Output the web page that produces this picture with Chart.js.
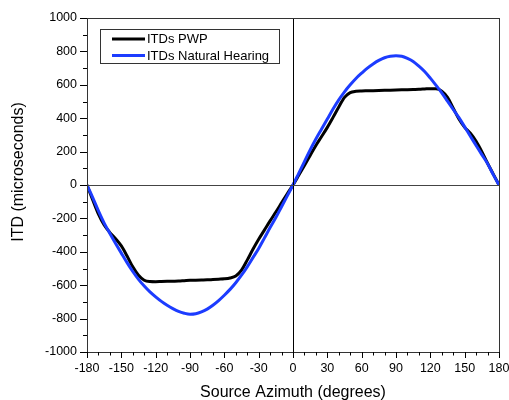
<!DOCTYPE html>
<html>
<head>
<meta charset="utf-8">
<script src="https://cdn.jsdelivr.net/npm/chart.js@4"></script>
<style>
  body { margin: 0; background: #fff; }
  #wrap { width: 509px; height: 400px; }
</style>
</head>
<body>
<div id="wrap"><canvas id="itdChart" width="509" height="400"></canvas></div>
<script>
// source azimuth in degrees
const azimuth = [
  -180, -175, -170, -165, -160, -155, -150, -145, -140, -135, -130, -125,
  -120, -115, -110, -105, -100, -95, -90, -85, -80, -75, -70, -65,
  -60, -55, -50, -45, -40, -35, -30, -25, -20, -15, -10, -5,
  0, 5, 10, 15, 20, 25, 30, 35, 40, 45, 50, 55,
  60, 65, 70, 75, 80, 85, 90, 95, 100, 105, 110, 115,
  120, 125, 130, 135, 140, 145, 150, 155, 160, 165, 170, 175, 180
];

// ITDs PWP (microseconds)
const pwpItd = [
  0, -90, -175, -240, -285, -322, -365, -425, -490, -540, -570, -578,
  -579, -578, -577, -576, -575, -573, -571, -570, -569, -568, -566, -564,
  -562, -557, -545, -510, -450, -385, -325, -270, -215, -162, -107, -52,
  0, 58, 117, 177, 237, 290, 345, 405, 467, 525, 553, 561,
  563, 564, 565, 566, 567, 568, 569, 570, 571, 572, 573, 575,
  577, 576, 562, 525, 460, 395, 345, 310, 262, 200, 130, 65, 0
];

// ITDs Natural Hearing (microseconds)
const naturalItd = [
  0, -75, -155, -228, -290, -350, -408, -465, -518, -565, -605, -640,
  -670, -697, -720, -740, -757, -768, -774, -771, -760, -743, -720, -692,
  -660, -625, -585, -540, -490, -435, -380, -318, -255, -195, -130, -65,
  0, 70, 140, 210, 275, 335, 395, 455, 510, 558, 600, 638,
  670, 700, 725, 746, 762, 771, 774, 771, 758, 740, 712, 680,
  640, 597, 552, 502, 452, 403, 348, 292, 237, 182, 128, 62, 0
];

const xTicks = [-180, -150, -120, -90, -60, -30, 0, 30, 60, 90, 120, 150, 180];
const yTicks = [-1000, -800, -600, -400, -200, 0, 200, 400, 600, 800, 1000];

const seriesNames = ['ITDs PWP', 'ITDs Natural Hearing'];
const seriesColors = ['#000000', '#1c3cff'];

const FONT = 'Arial, "Liberation Sans", sans-serif';

const toPoints = (vals) => vals.map((v, i) => ({ x: azimuth[i], y: v }));

// frame, zero lines, minor/major ticks, axis titles, legend
const decorations = {
  id: 'decorations',
  afterDatasetsDraw(chart) {
    const { ctx, chartArea: a, scales: { x, y } } = chart;
    ctx.save();

    // zero lines
    ctx.lineWidth = 1;
    ctx.strokeStyle = '#000';
    const x0 = Math.round(x.getPixelForValue(0)) + 0.5;
    ctx.beginPath(); ctx.moveTo(x0, a.top); ctx.lineTo(x0, a.bottom); ctx.stroke();
    ctx.strokeStyle = '#444';
    const y0 = Math.round(y.getPixelForValue(0)) + 0.5;
    ctx.beginPath(); ctx.moveTo(a.left, y0); ctx.lineTo(a.right, y0); ctx.stroke();

    // frame
    ctx.strokeStyle = '#333';
    ctx.strokeRect(Math.round(a.left) + 0.5, Math.round(a.top) + 0.5,
      Math.round(a.right - a.left), Math.round(a.bottom - a.top));

    // x ticks: major every 30, minor every 10
    ctx.strokeStyle = '#000';
    ctx.beginPath();
    for (let d = -180; d <= 180; d += 10) {
      const px = Math.round(x.getPixelForValue(d)) + 0.5;
      const len = d % 30 === 0 ? 6 : 3.5;
      ctx.moveTo(px, a.bottom); ctx.lineTo(px, a.bottom + len);
    }
    // y ticks: major every 200, minor every 100
    for (let v = -1000; v <= 1000; v += 100) {
      const py = Math.round(y.getPixelForValue(v)) + 0.5;
      const len = v % 200 === 0 ? 7 : 4;
      ctx.moveTo(a.left, py); ctx.lineTo(a.left - len, py);
    }
    ctx.stroke();

    // axis titles
    ctx.fillStyle = '#000';
    ctx.font = '16px ' + FONT;
    ctx.textAlign = 'center';
    ctx.textBaseline = 'middle';
    ctx.fillText('Source Azimuth (degrees)', (a.left + a.right) / 2, 393);
    ctx.save();
    ctx.translate(19, 172);
    ctx.rotate(-Math.PI / 2);
    ctx.fillText('ITD (microseconds)', 0, 0);
    ctx.restore();

    // legend box
    ctx.strokeStyle = '#333';
    ctx.lineWidth = 1;
    ctx.strokeRect(100.5, 29.5, 179, 34);
    ctx.font = '13px ' + FONT;
    ctx.textAlign = 'left';
    const rows = [39, 55.5];
    chart.data.datasets.forEach((ds, i) => {
      ctx.strokeStyle = ds.borderColor;
      ctx.lineWidth = 3;
      ctx.beginPath(); ctx.moveTo(112, rows[i]); ctx.lineTo(145, rows[i]); ctx.stroke();
      ctx.fillStyle = '#000';
      ctx.fillText(ds.label, 147, rows[i] + 0.5);
    });

    ctx.restore();
  }
};

new Chart(document.getElementById('itdChart'), {
  type: 'line',
  data: {
    datasets: [
      {
        label: seriesNames[0],
        data: toPoints(pwpItd),
        borderColor: seriesColors[0],
        borderWidth: 3,
        pointRadius: 0,
        cubicInterpolationMode: 'monotone',
        order: 1
      },
      {
        label: seriesNames[1],
        data: toPoints(naturalItd),
        borderColor: seriesColors[1],
        borderWidth: 3,
        pointRadius: 0,
        cubicInterpolationMode: 'monotone',
        order: 0
      }
    ]
  },
  options: {
    responsive: false,
    devicePixelRatio: 1,
    animation: false,
    layout: { padding: { left: 0, right: 10, top: 18, bottom: 0 } },
    plugins: {
      legend: { display: false },
      tooltip: { enabled: false }
    },
    scales: {
      x: {
        type: 'linear',
        min: -180,
        max: 180,
        afterBuildTicks: (s) => { s.ticks = xTicks.map(v => ({ value: v })); },
        afterFit: (s) => { s.height = 48; s.paddingLeft = 0; s.paddingRight = 0; },
        grid: { display: false, drawTicks: false },
        border: { display: false },
        ticks: { color: '#000', font: { size: 12.5, family: FONT }, padding: 9, maxRotation: 0, autoSkip: false,
                 callback: (v) => String(v) }
      },
      y: {
        min: -1000,
        max: 1000,
        afterBuildTicks: (s) => { s.ticks = yTicks.map(v => ({ value: v })); },
        afterFit: (s) => { s.width = 87; s.paddingTop = 0; s.paddingBottom = 0; },
        grid: { display: false, drawTicks: false },
        border: { display: false },
        ticks: { color: '#000', font: { size: 12.5, family: FONT }, padding: 10,
                 callback: (v) => String(v) }
      }
    }
  },
  plugins: [decorations]
});
</script>
</body>
</html>
